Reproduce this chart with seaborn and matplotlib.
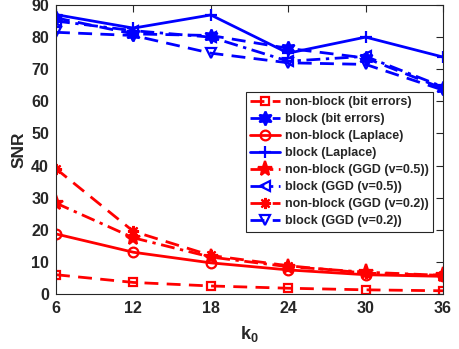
import matplotlib
matplotlib.use("Agg")
import matplotlib.pyplot as plt
import seaborn as sns
import numpy as np

# Data
k0 = [6, 12, 18, 24, 30, 36]
nonblock_bit = [6.0, 3.6, 2.5, 1.8, 1.3, 1.0]
block_bit = [86.0, 81.0, 80.5, 76.5, 73.5, 64.0]
nonblock_laplace = [18.7, 13.0, 9.7, 7.5, 6.0, 5.5]
block_laplace = [87.0, 82.8, 86.9, 75.0, 80.0, 73.8]
nonblock_ggd05 = [28.3, 17.5, 11.5, 8.5, 6.8, 5.8]
block_ggd05 = [85.0, 82.0, 80.0, 72.5, 74.0, 64.5]
nonblock_ggd02 = [39.0, 19.5, 12.0, 8.8, 6.5, 5.8]
block_ggd02 = [81.5, 80.5, 75.0, 72.0, 71.5, 63.5]

labels = [
    "non-block (bit errors)", "block (bit errors)",
    "non-block (Laplace)", "block (Laplace)",
    "non-block (GGD (v=0.5))", "block (GGD (v=0.5))",
    "non-block (GGD (v=0.2))", "block (GGD (v=0.2))",
]

sns.set_theme(style="white")
plt.rcParams["font.family"] = ["Liberation Sans", "DejaVu Sans"]
plt.rcParams["font.weight"] = "bold"
plt.rcParams["mathtext.fontset"] = "custom"
plt.rcParams["mathtext.bf"] = "Liberation Sans:bold"

RED = "#ff0000"
BLUE = "#0000ff"
DASH = (0, (5, 3))
DASHDOT = (0, (5, 2, 1.2, 2))

series = [
    (nonblock_bit, RED, DASH, "s", "none", 6),
    (block_bit, BLUE, DASH, (6, 1, 0), BLUE, 10),
    (nonblock_laplace, RED, "-", "o", "none", 7),
    (block_laplace, BLUE, "-", "+", "none", 9),
    (nonblock_ggd05, RED, DASHDOT, "*", RED, 11),
    (block_ggd05, BLUE, DASHDOT, "<", "none", 7),
    (nonblock_ggd02, RED, DASH, (8, 2, 0), RED, 8),
    (block_ggd02, BLUE, DASH, "v", "none", 7),
]

fig = plt.figure(figsize=(4.59, 3.49), dpi=100)
ax = fig.add_axes([56 / 459, 1 - 294 / 349, (443 - 56) / 459, (294 - 5) / 349])

for (vals, col, ls, mk, mfc, ms), lab in zip(series, labels):
    sns.lineplot(x=k0, y=vals, ax=ax, color=col, linestyle=ls, marker=mk,
                 markerfacecolor=mfc, markeredgecolor=col, markersize=ms,
                 markeredgewidth=1.6, linewidth=2.0, label=lab)

ax.set_xlim(6, 36)
ax.set_ylim(0, 90)
ax.set_xticks(k0)
ax.set_yticks(np.arange(0, 91, 10))
ax.tick_params(direction="in", length=5, width=0.8, color="#262626",
               top=True, right=True, labelsize=11.5, labelcolor="#262626", pad=5)
for lab in ax.get_xticklabels() + ax.get_yticklabels():
    lab.set_fontweight("bold")
for s in ax.spines.values():
    s.set_visible(True)
    s.set_color("#262626")
    s.set_linewidth(0.8)

ax.set_xlabel("k$_\\mathbf{0}$", fontsize=13, fontweight="bold", color="#262626", labelpad=6)
ax.set_ylabel("SNR", fontsize=12.5, fontweight="bold", color="#262626", labelpad=3)

leg = ax.legend(loc="upper left", bbox_to_anchor=((246 - 56) / 387, 1 - (92 - 5) / 289),
                fontsize=9, handlelength=2.4, handletextpad=0.35, labelspacing=0.4,
                borderpad=0.35, borderaxespad=0, frameon=True, fancybox=False,
                framealpha=1, edgecolor="#262626")
leg.get_frame().set_linewidth(0.8)
for t in leg.get_texts():
    t.set_fontweight("bold")

fig.savefig("out.png", dpi=100)
